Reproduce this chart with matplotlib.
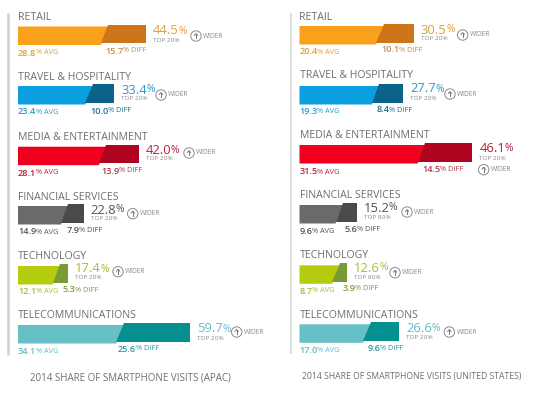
"""Share of smartphone visits by industry, APAC vs United States."""
import matplotlib
matplotlib.use('Agg')
import matplotlib.pyplot as plt
from matplotlib.patches import Circle

plt.rcParams['font.family'] = ['Open Sans', 'DejaVu Sans']

CATEGORIES = ['RETAIL', 'TRAVEL & HOSPITALITY', 'MEDIA & ENTERTAINMENT',
              'FINANCIAL SERVICES', 'TECHNOLOGY', 'TELECOMMUNICATIONS']

APAC_AVG = [28.8, 23.4, 28.1, 14.9, 12.1, 34.1]
APAC_DIFF = [15.7, 10.0, 13.9, 7.9, 5.3, 25.6]
APAC_TOP = [44.5, 33.4, 42.0, 22.8, 17.4, 59.7]
APAC_TIER = ['TOP 20%'] * 6

US_AVG = [20.4, 19.3, 31.5, 9.6, 8.7, 17.0]
US_DIFF = [10.1, 8.4, 14.5, 5.6, 3.9, 9.6]
US_TOP = [30.5, 27.7, 46.1, 15.2, 12.6, 26.6]
US_TIER = ['TOP 20%', 'TOP 20%', 'TOP 20%', 'TOP 80%', 'TOP 80%', 'TOP 20%']

APAC_TITLE = '2014 SHARE OF SMARTPHONE VISITS (APAC)'
US_TITLE = '2014 SHARE OF SMARTPHONE VISITS (UNITED STATES)'

# (light, dark, number text, sub text) per industry
COLORS = [('#F9A11B', '#CF7519', '#DDA040', '#C98A4A'),
          ('#0C9FE0', '#0A6389', '#2A9CC8', '#1F6F90'),
          ('#F0001E', '#B00320', '#B8203C', '#B0364C'),
          ('#6A6A6A', '#4A4A4A', '#555555', '#555555'),
          ('#B5CC0E', '#7A9A35', '#A6BC3A', '#7F9A3E'),
          ('#67C0C5', '#03908F', '#62BCC4', '#2A9A9C')]

GREY = '#6E6E6E'
W, H = 540, 395

# layout in pixels, one entry per row
APAC_LAYOUT = dict(
    x0=18, scale=2.88, rule_x=8, rule_w=1.9, rule_end=355,
    caption=(130, 378), caption_size=7.05,
    title_y=[18, 77, 138, 197, 256.7, 316],
    bar_top=[24.5, 84, 144.7, 204, 264, 323],
    avg_y=[53, 112, 173, 232, 291.7, 351.7],
    diff_y=[51, 111, 171, 230.7, 290, 349],
    diff_x=[105, 90, 101, 67, 62.7, 118],
    val_y=[31, 90, 150.7, 210, 269, 329],
    tier_y=[40, 99, 159, 219, 277.7, 338],
    btn=[(196, 36), (161, 95), (189, 153), (132.7, 213.7), (118, 271.7), (236.7, 332)],
)
US_LAYOUT = dict(
    x0=299.5, scale=3.75, rule_x=290.7, rule_w=1.1, rule_end=354,
    caption=(412, 377), caption_size=6.2,
    title_y=[17, 76, 135.7, 195.7, 256, 315],
    bar_top=[24, 84, 143, 203, 263.3, 322.3],
    avg_y=[52, 111.7, 172, 231.7, 291, 350.7],
    diff_y=[50, 110, 169.7, 229.3, 288.7, 348.7],
    diff_x=[381, 377, 422, 345, 343, 368],
    val_y=[30, 89, 148.7, 208, 268, 328.3],
    tier_y=[39, 98.7, 158, 217.7, 277.3, 337.7],
    btn=[(462.7, 35), (450, 94), (483.7, 169.7), (407, 212), (395, 272.7), (449.3, 332)],
)


def runs(ax, x, y, parts):
    """Draw text pieces one after the other, left to right, from pixel x."""
    rend = ax.figure.canvas.get_renderer()
    for s, size, color, weight in parts:
        t = ax.text(x, y, s, fontsize=size, color=color, fontweight=weight,
                    va='center', ha='left')
        x += t.get_window_extent(rend).width - 0.6


def draw_panel(fig, px, avg, diff, top, tier, caption, lay):
    x0, scale = lay['x0'], lay['scale']
    # percent on x, pixels on y; 0% sits on the bar start
    ax = fig.add_axes([0, 0, 1, 1], facecolor='none')
    ax.set_xlim(-x0 / scale, (W - x0) / scale)
    ax.set_ylim(H, 0)
    ax.axis('off')
    slant = 7.5 / scale

    px.plot([lay['rule_x']] * 2, [13, lay['rule_end']], color='#D2D2D2',
            lw=lay['rule_w'], solid_capstyle='butt')

    for i, name in enumerate(CATEGORIES):
        light, dark, num, sub = COLORS[i]
        y = lay['bar_top'][i]
        ax.fill([0, avg[i] + slant, avg[i], 0], [y + 2, y + 2, y + 20.5, y + 20.5],
                color=light, lw=0)
        ax.fill([avg[i] + slant, top[i], top[i], avg[i]],
                [y, y, y + 18.7, y + 18.7], color=dark, lw=0)

        px.text(x0, lay['title_y'][i], name, fontsize=7.6, color=GREY,
                va='center', ha='left')
        runs(px, x0, lay['avg_y'][i], [(f'{avg[i]:.1f}', 6.6, num, 'semibold'),
                                       ('% AVG', 5.3, num, 'normal')])
        runs(px, lay['diff_x'][i], lay['diff_y'][i], [(f'{diff[i]:.1f}', 6.6, sub, 'semibold'),
                                                      ('% DIFF', 5.3, sub, 'normal')])
        vx = x0 + top[i] * scale + 7
        runs(px, vx, lay['val_y'][i], [(f'{top[i]:.1f}', 9.4, num, 'normal'),
                                       ('%', 7.4, num, 'normal')])
        px.text(vx, lay['tier_y'][i], tier[i], fontsize=4.6, color='#8A8A8A',
                va='center', ha='left')

        bx, by = lay['btn'][i]
        px.add_patch(Circle((bx, by), 5.2, fill=False, ec='#8A8A8A', lw=0.7))
        px.plot([bx, bx], [by - 2.4, by + 2.4], color='#777777', lw=0.7)
        px.plot([bx - 1.7, bx, bx + 1.7], [by - 0.6, by - 2.4, by - 0.6],
                color='#777777', lw=0.7)
        px.text(bx + 7.3, by, 'WIDER', fontsize=4.8, color='#8A8A8A',
                va='center', ha='left')

    cx, cy = lay['caption']
    px.text(cx, cy, caption, fontsize=lay['caption_size'], color=GREY,
            va='center', ha='center')


def main():
    fig = plt.figure(figsize=(W / 100, H / 100), dpi=100)
    px = fig.add_axes([0, 0, 1, 1], facecolor='none', zorder=5)
    px.set_xlim(0, W)
    px.set_ylim(H, 0)
    px.axis('off')
    draw_panel(fig, px, APAC_AVG, APAC_DIFF, APAC_TOP, APAC_TIER, APAC_TITLE, APAC_LAYOUT)
    draw_panel(fig, px, US_AVG, US_DIFF, US_TOP, US_TIER, US_TITLE, US_LAYOUT)
    fig.savefig('out.png', dpi=100)


if __name__ == '__main__':
    main()
